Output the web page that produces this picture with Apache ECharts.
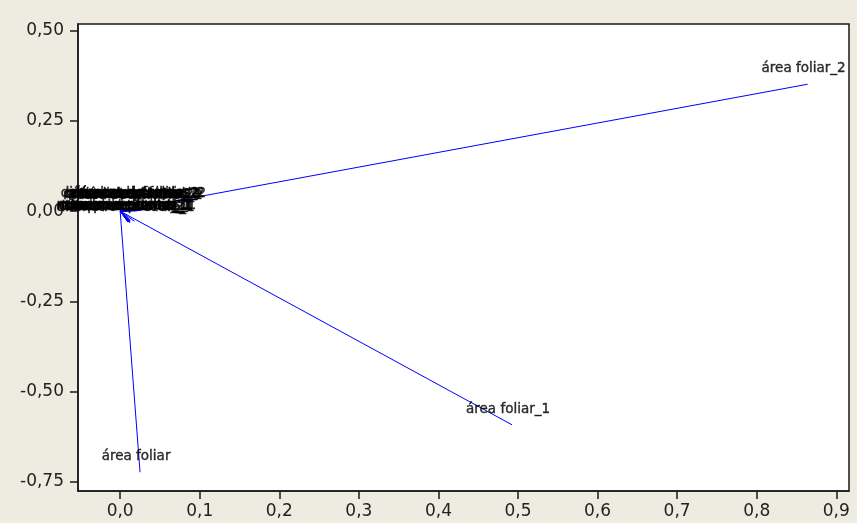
<!DOCTYPE html>
<html>
<head>
<meta charset="utf-8">
<script src="https://cdn.jsdelivr.net/npm/echarts@6/dist/echarts.min.js"></script>
<style>
  html, body { margin: 0; padding: 0; background: #EEEBE0; }
  #chart { width: 857px; height: 523px; }
</style>
</head>
<body>
<div id="chart"></div>
<script>
// Loading vectors (biplot of variables), each drawn from the origin
const varNames = [
  "área foliar", "área foliar_1", "área foliar_2",
  // second evaluation
  "número de folhas_2", "altura de planta_2", "diâmetro do caule_2", "comprimento raiz_2",
  "massa seca raiz_2", "massa seca folhas_2", "número de ramos_2", "altura de planta",
  "diâmetro do caule", "número de folhas", "massa seca total_2", "volume de raiz_2",
  // first evaluation
  "comprimento raiz_1", "número de folhas_1", "altura de planta_1", "diâmetro do caule_1",
  "massa seca raiz_1", "comprimento raiz", "número de ramos_1", "volume de raiz_1",
  "massa seca total_1", "massa seca folhas_1"
];
const loadX = [
  0.025, 0.4925, 0.864,
  0.027, 0.016, 0.017, 0.018,
  0.020, 0.021, 0.028, 0.008,
  0.028, 0.010, 0.025, 0.032,
  0.012, 0.012, 0.010, 0.012,
  0.012, 0.010, 0.010, 0.018,
  0.012, 0.013
];
const loadY = [
  -0.724, -0.5925, 0.352,
  0.006, 0.003, 0.005, 0.002,
  0.004, 0.001, 0.007, 0.004,
  0.003, 0.006, 0.002, 0.005,
  -0.031, -0.028, -0.030, -0.032,
  -0.027, -0.029, -0.031, -0.028,
  -0.030, -0.026
];

// Axis tick labels
const xTicks = [0.0, 0.1, 0.2, 0.3, 0.4, 0.5, 0.6, 0.7, 0.8, 0.9];
const yTicks = [0.50, 0.25, 0.00, -0.25, -0.50, -0.75];

const fmt = (digits) => (v) => Number(v).toFixed(digits).replace('.', ',');

const vectorSeries = varNames.map((name, i) => ({
  type: 'line',
  name: name,
  data: [[0, 0], [loadX[i], loadY[i]]],
  showSymbol: false,
  symbol: 'none',
  lineStyle: { color: '#0000FF', width: 1 },
  silent: true,
  z: 2
}));

// Variable names sit just above each vector tip
const labelSeries = {
  type: 'scatter',
  data: varNames.map((name, i) => [loadX[i], loadY[i], name]),
  symbolSize: 1,
  itemStyle: { color: 'rgba(0,0,0,0)' },
  silent: true,
  z: 5,
  clip: false,
  label: {
    show: true,
    position: [-3.5, -8],
    align: 'center',
    verticalAlign: 'bottom',
    formatter: (p) => p.data[2],
    color: '#000',
    textBorderColor: '#000',
    textBorderWidth: 0.4,
    fontFamily: 'DejaVu Sans',
    fontSize: 13.5
  },
  labelLayout: { hideOverlap: false }
};

const chart = echarts.init(document.getElementById('chart'), null, { renderer: 'canvas' });
chart.setOption({
  backgroundColor: '#EEEBE0',
  animation: false,
  grid: {
    left: 78, top: 24, right: 8, bottom: 32,
    show: true,
    backgroundColor: '#FFFFFF',
    borderColor: '#1A1A1A',
    borderWidth: 1.5
  },
  xAxis: {
    type: 'value',
    min: -0.053,
    max: 0.916,
    splitLine: { show: false },
    axisLine: { show: true, onZero: false, lineStyle: { color: '#1A1A1A', width: 1.5 } },
    axisTick: { show: true, customValues: xTicks, length: 8, lineStyle: { color: '#1A1A1A', width: 1.5 } },
    axisLabel: {
      customValues: xTicks,
      formatter: fmt(1),
      color: '#222',
      fontFamily: 'DejaVu Sans',
      fontSize: 17,
      margin: 12
    }
  },
  yAxis: {
    type: 'value',
    min: -0.776,
    max: 0.519,
    splitLine: { show: false },
    axisLine: { show: true, onZero: false, lineStyle: { color: '#1A1A1A', width: 1.5 } },
    axisTick: { show: true, customValues: yTicks, length: 8, lineStyle: { color: '#1A1A1A', width: 1.5 } },
    axisLabel: {
      customValues: yTicks,
      formatter: fmt(2),
      color: '#222',
      fontFamily: 'DejaVu Sans',
      fontSize: 17,
      margin: 14
    }
  },
  series: [...vectorSeries, labelSeries]
});
</script>
</body>
</html>
